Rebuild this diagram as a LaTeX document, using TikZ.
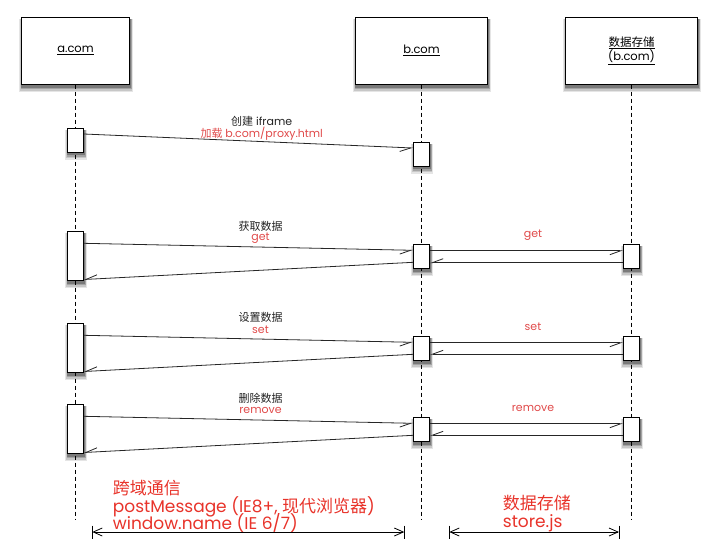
\documentclass[tikz,border=0pt]{standalone}
\usepackage{fontspec}
\setmainfont{Poppins}
\newfontfamily\cjk{Noto Sans CJK SC}
\usetikzlibrary{arrows.meta,backgrounds}
\definecolor{rd}{HTML}{E8332A}
\definecolor{lrd}{HTML}{E04A4A}
\definecolor{ink}{HTML}{222222}
\newcommand\shadowof[1]{%
  \fill[black!10] ([shift={(-2pt,-7.5pt)}]#1.south west) rectangle ([shift={(3pt,-2.5pt)}]#1.north east);
  \fill[black!22] ([shift={(-1.2pt,-6pt)}]#1.south west) rectangle ([shift={(2.3pt,-2.5pt)}]#1.north east);
  \fill[black!36] ([shift={(-0.5pt,-4.5pt)}]#1.south west) rectangle ([shift={(1.6pt,-2.5pt)}]#1.north east);
  \fill[black!52] ([shift={(0.2pt,-3pt)}]#1.south west) rectangle ([shift={(1pt,-2.5pt)}]#1.north east);}
\begin{document}
\begin{tikzpicture}[x=1pt,y=-1pt,
  box/.style={draw=black, line width=0.8pt, fill=white},
  head/.style={box, minimum height=67pt, inner sep=0pt, align=center,
    font=\fontsize{11.5}{11.7}\selectfont},
  act/.style={box, minimum width=16pt, inner sep=0pt},
  life/.style={line width=0.7pt, dash pattern=on 4pt off 3pt},
  msg/.style={line width=0.8pt, draw=black!85,
    -{Straight Barb[right, length=11pt, width=8pt]}},
  lbl/.style={font=\fontsize{11}{12}\selectfont, inner sep=0pt, text=ink},
  rlbl/.style={lbl, text=lrd},
  big/.style={font=\fontsize{17}{18}\selectfont, text=rd, inner sep=0pt, anchor=base west},
  dim/.style={line width=0.8pt, {Straight Barb[length=9pt, width=8pt]}-{Straight Barb[length=9pt, width=8pt]}},
  tick/.style={line width=0.8pt}
]
\useasboundingbox (0,0) rectangle (717,550);

% headers
\node[head, minimum width=108pt] (ha) at (75.5,50.7) {\underline{a.com}};
\node[head, minimum width=132pt] (hb) at (421.5,50.7) {\underline{b.com}};
\node[head, minimum width=132pt] (hs) at (631.5,50.7) {\underline{\cjk 数据存储}\\\underline{(b.com)}};

% lifelines
\coordinate (ae) at (75.5,519);
\coordinate (be) at (421.5,519);
\coordinate (se) at (631.5,519);
\draw[life] (ha.south) -- (ae);
\draw[life] (hb.south) -- (be);
\draw[life] (hs.south) -- (se);

% activation boxes
\node[act, minimum height=24pt] (a1) at (75.5,140) {};
\node[act, minimum height=24pt] (b1) at (421.5,154) {};

\node[act, minimum height=49pt] (a2) at (75.5,255.8) {};
\node[act, minimum height=24pt] (b2) at (421.5,256.3) {};
\node[act, minimum height=24pt] (s2) at (631.5,256.3) {};

\node[act, minimum height=49pt] (a3) at (75.5,347.8) {};
\node[act, minimum height=24pt] (b3) at (421.5,348.3) {};
\node[act, minimum height=24pt] (s3) at (631.5,348.3) {};

\node[act, minimum height=49pt] (a4) at (75.5,428.8) {};
\node[act, minimum height=24pt] (b4) at (421.5,429.3) {};
\node[act, minimum height=24pt] (s4) at (631.5,429.3) {};

% shadows
\begin{pgfonlayer}{background}
\shadowof{ha}\shadowof{hb}\shadowof{hs}
\shadowof{a1}\shadowof{b1}
\shadowof{a2}\shadowof{b2}\shadowof{s2}
\shadowof{a3}\shadowof{b3}\shadowof{s3}
\shadowof{a4}\shadowof{b4}\shadowof{s4}
\end{pgfonlayer}

% messages
\draw[msg] (a1.east |- 0,134) -- (b1.west |- 0,148);

\draw[msg] (a2.east |- 0,243.3) -- (b2.west |- 0,250.3);
\draw[msg] (b2.west |- 0,262.3) -- (a2.east |- 0,279.5);
\draw[msg] (b2.east |- 0,250.7) -- (s2.west |- 0,250.7);
\draw[msg] (s2.west |- 0,262.7) -- (b2.east |- 0,262.7);

\draw[msg] (a3.east |- 0,335.3) -- (b3.west |- 0,342.3);
\draw[msg] (b3.west |- 0,354.3) -- (a3.east |- 0,371.5);
\draw[msg] (b3.east |- 0,342.7) -- (s3.west |- 0,342.7);
\draw[msg] (s3.west |- 0,354.3) -- (b3.east |- 0,354.3);

\draw[msg] (a4.east |- 0,416.3) -- (b4.west |- 0,423.3);
\draw[msg] (b4.west |- 0,435.3) -- (a4.east |- 0,452.5);
\draw[msg] (b4.east |- 0,423.7) -- (s4.west |- 0,423.7);
\draw[msg] (s4.west |- 0,435.3) -- (b4.east |- 0,435.3);

% labels
\node[lbl] (t1) at (261.7,121.7) {{\cjk 创建} iframe};
\node[rlbl] (t1r) at (261.7,133.3) {{\cjk 加载} b.com/proxy.html};
\node[lbl] (t2) at (260.5,226.7) {\cjk 获取数据};
\node[rlbl] (t2r) at (260.5,238.3) {get};
\node[rlbl] (t2s) at (533,235) {get};
\node[lbl] (t3) at (260.5,317.3) {\cjk 设置数据};
\node[rlbl] (t3r) at (260.5,329.3) {set};
\node[rlbl] (t3s) at (533,326.7) {set};
\node[lbl] (t4) at (260.5,398.3) {\cjk 删除数据};
\node[rlbl] (t4r) at (260.5,410) {remove};
\node[rlbl] (t4s) at (533,408.3) {remove};

% bottom notes
\node[big] (n1) at (112.7,494.5) {\cjk 跨域通信};
\node[big] (n2) at (112.7,512.5) {postMessage (IE8+, {\cjk 现代浏览器})};
\node[big] (n3) at (112.7,529.3) {window.name (IE 6/7)};
\node[big] (n4) at (502.7,509.5) {\cjk 数据存储};
\node[big] (n5) at (502.7,527.5) {store.js};

% dimension lines
\coordinate (d1l) at (92.3,532);
\coordinate (d1r) at (404.3,532);
\coordinate (d2l) at (449.3,532);
\coordinate (d2r) at (619,532);
\draw[dim] (d1l) -- (d1r);
\draw[dim] (d2l) -- (d2r);
\draw[tick] ([yshift=6.5pt]d1l) -- ([yshift=-6.5pt]d1l);
\draw[tick] ([yshift=6.5pt]d1r) -- ([yshift=-6.5pt]d1r);
\draw[tick] ([yshift=6.5pt]d2l) -- ([yshift=-6.5pt]d2l);
\draw[tick] ([yshift=6.5pt]d2r) -- ([yshift=-6.5pt]d2r);
\end{tikzpicture}
\end{document}
